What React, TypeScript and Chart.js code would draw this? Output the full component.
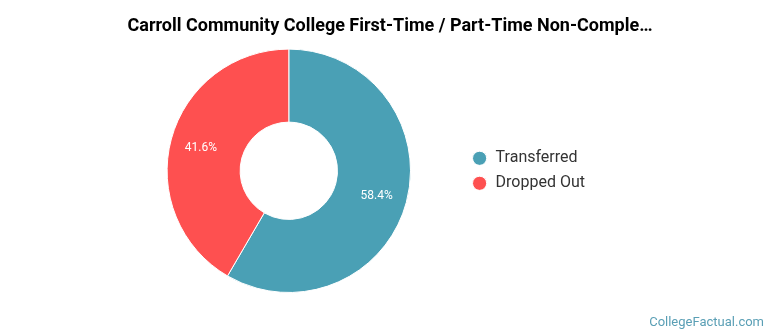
import React, { useEffect, useRef } from "react";
import { Chart, registerables } from "chart.js";

Chart.register(...registerables);

const titleText = "Carroll Community College First-Time / Part-Time Non-Comple…";
const categories = ["Transferred", "Dropped Out"];
const values = [58.4, 41.6];
const colors = ["#4aa0b5", "#fe5050"];
const watermark = "CollegeFactual.com";

const sliceLabels = {
  id: "sliceLabels",
  afterDatasetsDraw(chart: any) {
    const ctx = chart.ctx;
    const meta = chart.getDatasetMeta(0);
    const data = chart.data.datasets[0].data as number[];
    const total = data.reduce((a, b) => a + b, 0);
    ctx.save();
    ctx.font = "12px Roboto";
    ctx.fillStyle = "#ffffff";
    ctx.textAlign = "center";
    ctx.textBaseline = "middle";
    meta.data.forEach((arc: any, i: number) => {
      const p = arc.getProps(["x", "y", "startAngle", "endAngle", "innerRadius", "outerRadius"], true);
      const mid = (p.startAngle + p.endAngle) / 2;
      const r = p.innerRadius + (p.outerRadius - p.innerRadius) * 0.58;
      const pct = ((data[i] / total) * 100).toFixed(1) + "%";
      ctx.fillText(pct, p.x + Math.cos(mid) * r, p.y + Math.sin(mid) * r + 1);
    });
    ctx.restore();
  },
};

// center the title over the whole canvas rather than the padded area
const titleCenter = {
  id: "titleCenter",
  afterLayout(chart: any) {
    const t = chart.titleBlock;
    if (t) {
      t.left = 0;
      t.right = 780;
      t.width = 780;
    }
  },
};

const watermarkPlugin = {
  id: "watermark",
  afterDraw(chart: any) {
    const ctx = chart.ctx;
    ctx.save();
    ctx.font = "13px Roboto";
    ctx.fillStyle = "#5a9fb5";
    ctx.textAlign = "right";
    ctx.textBaseline = "alphabetic";
    ctx.fillText(watermark, chart.width - 6, chart.height - 9);
    ctx.restore();
  },
};

export default function App() {
  const ref = useRef<HTMLCanvasElement>(null);
  useEffect(() => {
    if (!ref.current) return;
    const chart = new Chart(ref.current, {
      type: "doughnut",
      data: {
        labels: categories,
        datasets: [
          {
            data: values,
            backgroundColor: colors,
            borderColor: "#ffffff",
            borderWidth: 1,
          },
        ],
      },
      options: {
        animation: false,
        responsive: false,
        cutout: "40%",
        layout: { padding: { left: 115, right: 175, top: 0, bottom: 42 } },
        plugins: {
          title: {
            display: true,
            text: titleText,
            color: "#000",
            font: { family: "Roboto", size: 18, weight: "bold" },
            padding: { top: 16, bottom: 11 },
          },
          legend: {
            position: "right",
            align: "center",
            fullSize: false,
            labels: {
              usePointStyle: true,
              pointStyle: "circle",
              boxWidth: 16,
              boxHeight: 10,
              padding: 9,
              color: "#333",
              font: { family: "Roboto", size: 16 },
            },
          },
          tooltip: { enabled: false },
        },
      },
      plugins: [sliceLabels, titleCenter, watermarkPlugin],
    });
    return () => chart.destroy();
  }, []);
  return (
    <div style={{ position: "fixed", left: 0, top: 0, width: 770, height: 335, background: "#fff" }}>
      <canvas ref={ref} width={770} height={335} />
    </div>
  );
}
